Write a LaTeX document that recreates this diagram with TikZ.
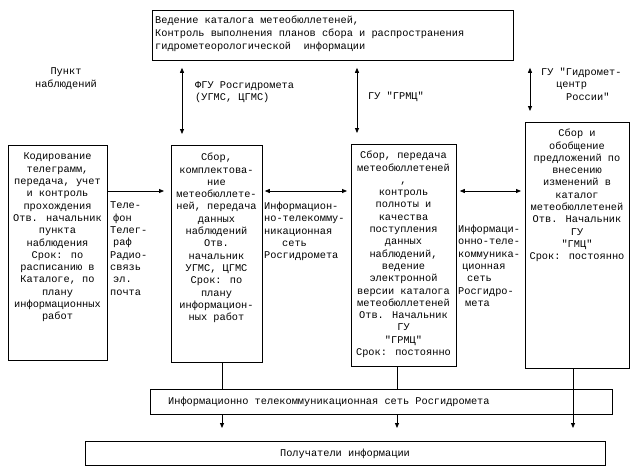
\documentclass[tikz,border=0pt]{standalone}
\usepackage{fontspec}
\newfontfamily\monofam{Liberation Mono}
\usetikzlibrary{arrows.meta}
\begin{document}
\begin{tikzpicture}[x=1pt,y=-1pt,
 box/.style={draw, line width=0.8pt, inner sep=0, anchor=north west},
 txt/.style={font=\monofam\fontsize{10.3}{12.3}\selectfont, inner sep=0, align=center, anchor=north},
 ltxt/.style={txt, align=left, anchor=north west},
 conn/.style={line width=0.8pt},
 arr/.style={conn, -{Triangle[length=5pt,width=4pt]}},
 darr/.style={conn, {Triangle[length=5pt,width=4pt]}-{Triangle[length=5pt,width=4pt]}}]
\useasboundingbox (0,0) rectangle (642,474);
\fill[white] (0,0) rectangle (642,474);

% boxes
\node[box, minimum width=361pt, minimum height=50pt] (top) at (152,10) {};
\node[box, minimum width=99pt, minimum height=215pt] (b1) at (8,145) {};
\node[box, minimum width=91pt, minimum height=217pt] (b2) at (171,145) {};
\node[box, minimum width=105pt, minimum height=222pt] (b3) at (351,144) {};
\node[box, minimum width=104pt, minimum height=246pt] (b4) at (525,122) {};
\node[box, minimum width=462pt, minimum height=25pt] (net) at (150,389) {};
\node[box, minimum width=520pt, minimum height=24pt] (rec) at (85,441) {};

% box texts
\node[ltxt, font=\monofam\fontsize{10.3}{13}\selectfont] (ttop) at (155,16) {Ведение каталога метеобюллетеней,\\Контроль выполнения планов сбора и распространения\\гидрометеорологической\ \ информации};
\node[txt] (t1) at (57.5,153) {Кодирование\\телеграмм,\\передача, учет\\и контроль\\прохождения\\Отв. начальник\\пункта\\наблюдения\\Срок: по\\расписанию в\\Каталоге, по\\плану\\информационных\\работ};
\node[txt] (t2) at (216.5,153) {Сбор,\\комплектова-\\ние\\метеобюллете-\\ней, передача\\данных\\наблюдений\\Отв.\\начальник\\УГМС, ЦГМС\\Срок: по\\плану\\информацион-\\ных работ};
\node[txt] (t3) at (403.5,151) {Сбор, передача\\метеобюллетеней\\,\\контроль\\полноты и\\качества\\поступления\\данных\\наблюдений,\\ведение\\электронной\\версии каталога\\метеобюллетеней\\Отв. Начальник\\ГУ\\"ГРМЦ"\\Срок: постоянно};
\node[txt] (t4) at (577,129) {Сбор и\\обобщение\\предложений по\\внесению\\изменений в\\каталог\\метеобюллетеней\\Отв. Начальник\\ГУ\\"ГМЦ"\\Срок: постоянно};
\node[ltxt] (tnet) at (168,397) {Информационно телекоммуникационная сеть Росгидромета};
\node[txt] (trec) at (345,449) {Получатели информации};

% free labels
\node[txt] (lp) at (66,68) {Пункт\\наблюдений};
\node[ltxt] (lf) at (195,81) {ФГУ Росгидромета\\(УГМС, ЦГМС)};
\node[ltxt] (lg) at (368,92) {ГУ "ГРМЦ"};
\node[ltxt] (lr) at (541,68) {ГУ "Гидромет-\\\hspace*{15pt}центр\\\hspace*{25pt}России"};
\node[ltxt] (lc1) at (110,202) {Теле-\\\hspace*{3pt}фон\\Телег-\\\hspace*{3pt}раф\\Радио-\\связь\\\hspace*{3pt}эл.\\почта};
\node[ltxt] (lc2) at (264,202) {Информацион-\\но-телекомму-\\никационная\\\hspace*{18pt}сеть\\Росгидромета};
\node[ltxt] (lc3) at (458,225) {Информаци-\\онно-теле-\\коммуника-\\\hspace*{4pt}ционная\\\hspace*{9pt}сеть\\Росгидро-\\\hspace*{7pt}мета};

% coordinates for connector positions
\coordinate (ux1) at (182,0);
\coordinate (ux2) at (357,0);
\coordinate (ux3) at (530,0);
\coordinate (hy) at (0,191);
\coordinate (dx1) at (222,0);
\coordinate (dx2) at (397,0);
\coordinate (dx3) at (573,0);

% vertical arrows to top box
\draw[darr] ([yshift=-7pt]top.south -| ux1) -- ([yshift=11pt]b2.north -| ux1);
\draw[darr] ([yshift=-7pt]top.south -| ux2) -- ([yshift=11pt]b3.north -| ux2);
\draw[darr] ([yshift=-7pt]top.south -| ux3) -- ([yshift=11pt]b4.north -| ux3);

% horizontal arrows
\draw[arr] (b1.east |- hy) -- ([xshift=-7pt]b2.west |- hy);
\draw[darr] ([xshift=2pt]b2.east |- hy) -- ([xshift=-4pt]b3.west |- hy);
\draw[darr] ([xshift=3pt]b3.east |- hy) -- ([xshift=-4pt]b4.west |- hy);

% down lines
\draw[conn] (b2.south -| dx1) -- (net.north -| dx1);
\draw[conn] (b3.south -| dx2) -- (net.north -| dx2);
\draw[arr] (net.south -| dx1) -- ([yshift=13pt]rec.north -| dx1);
\draw[arr] (net.south -| dx2) -- ([yshift=13pt]rec.north -| dx2);
\draw[arr] (b4.south -| dx3) -- ([yshift=13pt]rec.north -| dx3);
\end{tikzpicture}
\end{document}
